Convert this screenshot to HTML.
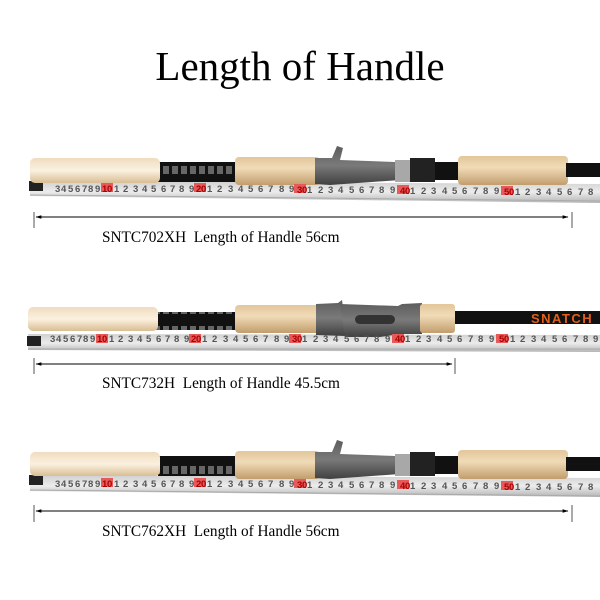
<!DOCTYPE html>
<html><head><meta charset="utf-8"><style>
html,body{margin:0;padding:0;background:#fff;width:600px;height:600px;overflow:hidden}
</style></head><body>
<svg width="600" height="600" viewBox="0 0 600 600" xmlns="http://www.w3.org/2000/svg">
<defs>
<linearGradient id="cork" x1="0" y1="0" x2="0" y2="1"><stop offset="0" stop-color="#e3c69a"/><stop offset="0.4" stop-color="#f0dbb8"/><stop offset="1" stop-color="#c29d6c"/></linearGradient>
<linearGradient id="cork0" x1="0" y1="0" x2="0" y2="1"><stop offset="0" stop-color="#efdcc0"/><stop offset="0.5" stop-color="#fbf1df"/><stop offset="1" stop-color="#d9bd94"/></linearGradient>
<linearGradient id="gray" x1="0" y1="0" x2="0" y2="1"><stop offset="0" stop-color="#5d5d5d"/><stop offset="0.5" stop-color="#7a7a7a"/><stop offset="1" stop-color="#404040"/></linearGradient>
<linearGradient id="ruler" x1="0" y1="0" x2="0" y2="1"><stop offset="0" stop-color="#d0d0d0"/><stop offset="0.5" stop-color="#ececec"/><stop offset="1" stop-color="#b5b5b5"/></linearGradient>
<linearGradient id="blank" x1="0" y1="0" x2="0" y2="1"><stop offset="0" stop-color="#333"/><stop offset="0.5" stop-color="#111"/><stop offset="1" stop-color="#000"/></linearGradient>
<pattern id="wrap" width="9" height="20" patternUnits="userSpaceOnUse"><rect width="9" height="20" fill="#111"/><rect x="1" y="6" width="6" height="8" fill="#666"/></pattern>
<marker id="ah" viewBox="0 0 10 10" refX="9" refY="5" markerWidth="6" markerHeight="6" orient="auto-start-reverse"><path d="M0,2 L10,5 L0,8 z" fill="#000"/></marker>
</defs>

<text x="300" y="80" text-anchor="middle" font-family="Liberation Serif, serif" font-size="41" fill="#000">Length of Handle</text>

<!-- ROD 1 -->
<g>
<path d="M30,181 L600,184 L600,203 L30,196 z" fill="url(#ruler)"/>
<path d="M30,195 L600,201" stroke="#aaa" stroke-width="1"/>
<rect x="29" y="181" width="14" height="10" fill="#222"/>
<rect x="158" y="162" width="80" height="20" fill="url(#wrap)"/>
<rect x="30" y="158" width="130" height="25" rx="5" fill="url(#cork0)"/>
<rect x="235" y="157" width="85" height="28" rx="4" fill="url(#cork)"/>
<path d="M315,158 L332,158 L337,146 L343,148 L340,160 L395,162 L400,180 L330,185 L315,184 z" fill="url(#gray)"/>
<rect x="395" y="160" width="15" height="22" fill="#a8a8a8"/>
<rect x="410" y="158" width="25" height="24" fill="#222"/>
<rect x="435" y="162" width="27" height="18" fill="#111"/>
<rect x="458" y="156" width="110" height="29" rx="4" fill="url(#cork)"/>
<rect x="566" y="163" width="34" height="14" fill="#111"/>
<g fill="#e85a5a"><rect x="101" y="183" width="12" height="9"/><rect x="194" y="183" width="12" height="9"/><rect x="294" y="184" width="12" height="9"/><rect x="397" y="185" width="12" height="9"/><rect x="501" y="186" width="12" height="9"/></g>
<text y="192" font-family="Liberation Sans, sans-serif" font-size="9.5" font-weight="bold" fill="#555"><tspan x="55 61 68 75 82 88 95">3456789</tspan><tspan fill="#a00" x="102 107">10</tspan><tspan x="114 123 133 142 151 161 170 179 189">123456789</tspan><tspan fill="#a00" x="196 201">20</tspan><tspan x="207 217 228 238 248 258 268 279 289">123456789</tspan><tspan fill="#a00" x="297 302" dy="1">30</tspan><tspan x="307 318 328 338 349 359 369 379 390">123456789</tspan><tspan fill="#a00" x="400 405" dy="1">40</tspan><tspan x="410 421 431 442 452 462 473 483 494">123456789</tspan><tspan fill="#a00" x="504 509" dy="1">50</tspan><tspan x="515 525 536 546 557 567 578 588">12345678</tspan></text>
<line x1="34" y1="212" x2="34" y2="228" stroke="#555"/>
<line x1="572" y1="212" x2="572" y2="228" stroke="#555"/>
<line x1="36" y1="217" x2="568" y2="217" stroke="#000" stroke-width="1" marker-start="url(#ah)" marker-end="url(#ah)"/>
<text x="102" y="242" font-family="Liberation Serif, serif" font-size="15.3" fill="#000">SNTC702XH&#160; Length of Handle 56cm</text>
</g>

<!-- ROD 2 -->
<g>
<path d="M28,334 L600,335 L600,352 L28,350 z" fill="url(#ruler)"/>
<path d="M28,349 H600" stroke="#aaa" stroke-width="1"/>
<rect x="27" y="336" width="14" height="10" fill="#222"/>
<rect x="155" y="312" width="82" height="18" fill="url(#wrap)"/>
<rect x="28" y="307" width="130" height="24" rx="5" fill="url(#cork0)"/>
<rect x="235" y="305" width="90" height="28" rx="4" fill="url(#cork)"/>
<path d="M316,304 L338,303 L342,300 L345,322 L352,330 L345,336 L316,335 z" fill="url(#gray)"/>
<path d="M340,304 L398,306 L402,304 L422,303 L422,334 L400,334 L380,337 L345,337 z" fill="url(#gray)"/>
<rect x="355" y="315" width="40" height="9" rx="4.5" fill="#333"/>
<rect x="420" y="304" width="35" height="29" rx="3" fill="url(#cork)"/>
<rect x="455" y="311" width="145" height="13" fill="#111"/>
<text x="531" y="323" font-family="Liberation Sans, sans-serif" font-size="13" font-weight="bold" fill="#e0601a" letter-spacing="1.5">SNATCH</text>
<g transform="translate(-5,150)">
<g fill="#e85a5a"><rect x="101" y="184" width="12" height="9"/><rect x="194" y="184" width="12" height="9"/><rect x="294" y="184" width="12" height="9"/><rect x="397" y="184" width="12" height="9"/><rect x="501" y="184" width="12" height="9"/></g>
<text y="192" font-family="Liberation Sans, sans-serif" font-size="9.5" font-weight="bold" fill="#555"><tspan x="55 61 68 75 82 88 95">3456789</tspan><tspan fill="#a00" x="102 107">10</tspan><tspan x="114 123 133 142 151 161 170 179 189">123456789</tspan><tspan fill="#a00" x="196 201">20</tspan><tspan x="207 217 228 238 248 258 268 279 289">123456789</tspan><tspan fill="#a00" x="297 302">30</tspan><tspan x="307 318 328 338 349 359 369 379 390">123456789</tspan><tspan fill="#a00" x="400 405">40</tspan><tspan x="410 421 431 442 452 462 473 483 494">123456789</tspan><tspan fill="#a00" x="504 509">50</tspan><tspan x="515 525 536 546 557 567 578 588 598">123456789</tspan></text>
</g>
<line x1="34" y1="358" x2="34" y2="374" stroke="#555"/>
<line x1="455" y1="358" x2="455" y2="374" stroke="#555"/>
<line x1="36" y1="364" x2="452" y2="364" stroke="#000" stroke-width="1" marker-start="url(#ah)" marker-end="url(#ah)"/>
<text x="102" y="388" font-family="Liberation Serif, serif" font-size="15.3" fill="#000">SNTC732H&#160; Length of Handle 45.5cm</text>
</g>

<!-- ROD 3 -->
<g>
<path d="M30,475 L600,478 L600,497 L30,491 z" fill="url(#ruler)"/>
<path d="M30,490 L600,496" stroke="#aaa" stroke-width="1"/>
<rect x="29" y="475" width="14" height="10" fill="#222"/>
<rect x="158" y="456" width="80" height="20" fill="url(#wrap)"/>
<rect x="30" y="452" width="130" height="24" rx="5" fill="url(#cork0)"/>
<rect x="235" y="451" width="85" height="28" rx="4" fill="url(#cork)"/>
<path d="M315,452 L332,452 L337,440 L343,442 L340,454 L395,456 L400,474 L330,479 L315,478 z" fill="url(#gray)"/>
<rect x="395" y="454" width="15" height="22" fill="#a8a8a8"/>
<rect x="410" y="452" width="25" height="24" fill="#222"/>
<rect x="435" y="456" width="27" height="18" fill="#111"/>
<rect x="458" y="450" width="110" height="29" rx="4" fill="url(#cork)"/>
<rect x="566" y="457" width="34" height="14" fill="#111"/>
<g transform="translate(0,-5)">
<g fill="#e85a5a"><rect x="101" y="483" width="12" height="9"/><rect x="194" y="483" width="12" height="9"/><rect x="294" y="484" width="12" height="9"/><rect x="397" y="485" width="12" height="9"/><rect x="501" y="486" width="12" height="9"/></g>
<text y="492" font-family="Liberation Sans, sans-serif" font-size="9.5" font-weight="bold" fill="#555"><tspan x="55 61 68 75 82 88 95">3456789</tspan><tspan fill="#a00" x="102 107">10</tspan><tspan x="114 123 133 142 151 161 170 179 189">123456789</tspan><tspan fill="#a00" x="196 201">20</tspan><tspan x="207 217 228 238 248 258 268 279 289">123456789</tspan><tspan fill="#a00" x="297 302" dy="1">30</tspan><tspan x="307 318 328 338 349 359 369 379 390">123456789</tspan><tspan fill="#a00" x="400 405" dy="1">40</tspan><tspan x="410 421 431 442 452 462 473 483 494">123456789</tspan><tspan fill="#a00" x="504 509" dy="1">50</tspan><tspan x="515 525 536 546 557 567 578 588">12345678</tspan></text>
</g>
<line x1="34" y1="505" x2="34" y2="522" stroke="#555"/>
<line x1="572" y1="505" x2="572" y2="522" stroke="#555"/>
<line x1="36" y1="511" x2="568" y2="511" stroke="#000" stroke-width="1" marker-start="url(#ah)" marker-end="url(#ah)"/>
<text x="102" y="536" font-family="Liberation Serif, serif" font-size="15.3" fill="#000">SNTC762XH&#160; Length of Handle 56cm</text>
</g>
</svg>
</body></html>
